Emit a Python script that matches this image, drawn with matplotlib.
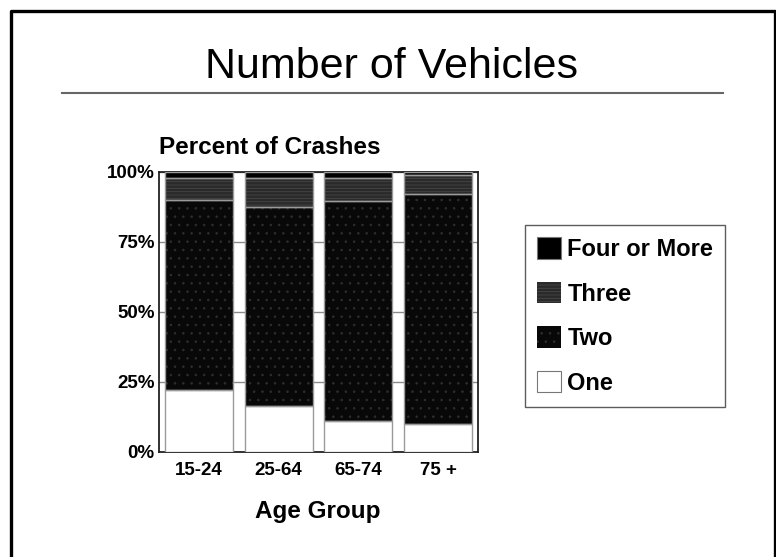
import matplotlib
matplotlib.use("Agg")
import matplotlib.pyplot as plt
from matplotlib.lines import Line2D
from matplotlib.patches import Patch
import numpy as np

plt.rcParams['font.family'] = ['Liberation Sans', 'DejaVu Sans']
plt.rcParams['hatch.linewidth'] = 0.6

# data (percent of crashes by number of vehicles)
age_groups = ["15-24", "25-64", "65-74", "75 +"]
one = [22, 16.5, 11, 10]
two = [68, 71, 78.5, 82]
three = [8, 10.5, 8.5, 7]
four_plus = [2, 2, 2, 1]

series = [
    ("One", one, dict(facecolor="white", hatch=None, hc="white")),
    ("Two", two, dict(facecolor="#080808", hatch="..", hc="#2e2e2e")),
    ("Three", three, dict(facecolor="#2a2a2a", hatch="-----", hc="#464646")),
    ("Four or More", four_plus, dict(facecolor="black", hatch=None, hc="black")),
]

W, H = 776, 557
fig = plt.figure(figsize=(W / 100, H / 100), dpi=100)
ax = fig.add_axes([159 / W, 1 - 452 / H, 319 / W, 280 / H])

x = np.arange(len(age_groups))
bottom = np.zeros(len(age_groups))
for name, vals, st in series:
    vals = np.array(vals)
    ax.bar(x, vals, 0.85, bottom=bottom, color=st["facecolor"],
           edgecolor=st["hc"], hatch=st["hatch"], linewidth=0, zorder=3)
    ax.bar(x, vals, 0.85, bottom=bottom, fill=False,
           edgecolor="#9a9a9a", linewidth=1.0, zorder=4)
    bottom += vals

ax.set_xlim(-0.5, 3.5)
ax.set_ylim(0, 100)
ax.set_yticks([0, 25, 50, 75, 100])
ax.set_yticklabels(["0%", "25%", "50%", "75%", "100%"])
ax.set_xticks(x)
ax.set_xticklabels(age_groups)
ax.tick_params(axis="y", length=0, labelsize=13.5, pad=3)
ax.tick_params(axis="x", length=0, labelsize=13.5, pad=7)
for lab in ax.get_xticklabels() + ax.get_yticklabels():
    lab.set_fontweight("bold")
ax.yaxis.grid(True, color="#8a8a8a", linewidth=1.0, zorder=0)
for s in ax.spines.values():
    s.set_linewidth(1.3)
    s.set_color("#222222")

ax.text(0.0, 1 + 18 / 280, "Percent of Crashes", transform=ax.transAxes,
        fontsize=17.5, fontweight="bold", ha="left", va="baseline")
fig.text(318 / W, 1 - 518 / H, "Age Group", fontsize=17.5,
         fontweight="bold", ha="center", va="baseline")

# legend
handles = []
for name, vals, st in reversed(series):
    handles.append(Patch(facecolor=st["facecolor"],
                         edgecolor=st["hc"] if st["hatch"] else "#777777",
                         hatch=st["hatch"], linewidth=0 if st["hatch"] else 0.8))
labels = [s[0] for s in reversed(series)]
leg = fig.legend(handles, labels, loc="upper left",
                 bbox_to_anchor=(525 / W, 1 - 225 / H),
                 prop={"size": 17, "weight": "bold"},
                 frameon=True, fancybox=False, shadow=False,
                 handlelength=1.02, handleheight=1.02, handletextpad=0.25,
                 labelspacing=0.88, borderpad=0.52, borderaxespad=0)
leg.get_frame().set_edgecolor("#333333")
leg.get_frame().set_linewidth(1.0)

# title and underline
fig.text(391.5 / W, 1 - 78 / H, "Number of Vehicles", fontsize=31,
         ha="center", va="baseline")
fig.add_artist(Line2D([62 / W, 723 / W], [1 - 92.5 / H, 1 - 92.5 / H],
                      transform=fig.transFigure, color="#666666", linewidth=1.5))

# outer frame (open at the bottom)
fx0, fx1, fy = 10.5 / W, 774.5 / W, 1 - 10.5 / H
fig.add_artist(Line2D([fx0, fx0, fx1, fx1], [0, fy, fy, 0],
                      transform=fig.transFigure, color="black", linewidth=2.4))

fig.savefig("out.png", dpi=100)
